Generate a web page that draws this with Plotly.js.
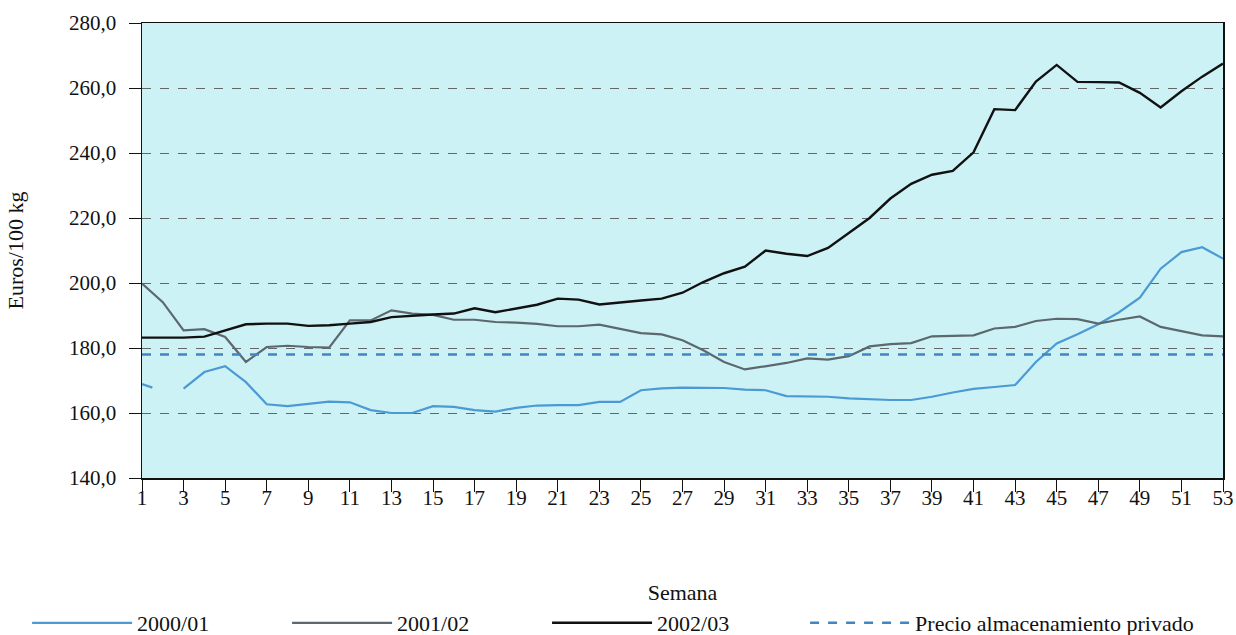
<!DOCTYPE html>
<html><head><meta charset="utf-8">
<script src="https://cdn.plot.ly/plotly-3.0.1.min.js"></script>
<style>html,body{margin:0;padding:0;background:#fff}#chart{width:1236px;height:635px}</style>
</head><body><div id="chart"></div>
<script>
const weeks = [1,2,3,4,5,6,7,8,9,10,11,12,13,14,15,16,17,18,19,20,21,22,23,24,25,26,27,28,29,30,31,32,33,34,35,36,37,38,39,40,41,42,43,44,45,46,47,48,49,50,51,52,53];
const weeks0001 = [1,1.5,2,3,4,5,6,7,8,9,10,11,12,13,14,15,16,17,18,19,20,21,22,23,24,25,26,27,28,29,30,31,32,33,34,35,36,37,38,39,40,41,42,43,44,45,46,47,48,49,50,51,52,53];
const s0001 = [168.9,167.8,null,167.5,172.6,174.4,169.5,162.7,162.1,162.8,163.5,163.3,160.9,160.0,160.0,162.1,161.9,160.9,160.4,161.6,162.3,162.4,162.4,163.4,163.4,167.0,167.6,167.8,167.8,167.7,167.2,167.0,165.2,165.2,165.0,164.5,164.2,164.0,164.0,165.0,166.3,167.4,168.0,168.6,175.7,181.4,184.2,187.3,191.0,195.5,204.4,209.5,211.0,207.5];
const s0102 = [199.8,194.1,185.4,185.8,183.4,175.7,180.3,180.7,180.3,180.1,188.5,188.5,191.6,190.6,190.2,188.7,188.7,188.0,187.8,187.4,186.7,186.7,187.2,186.0,184.6,184.2,182.4,179.3,175.7,173.4,174.4,175.4,176.8,176.4,177.5,180.5,181.2,181.5,183.6,183.8,183.9,186.0,186.5,188.3,189.0,188.9,187.5,188.7,189.7,186.5,185.2,183.9,183.6];
const s0203 = [183.2,183.2,183.2,183.5,185.5,187.3,187.5,187.5,186.8,187.0,187.5,188.0,189.5,190.0,190.3,190.6,192.2,191.0,192.2,193.3,195.2,194.9,193.4,194.1,194.6,195.2,197.0,200.3,203.0,205.0,210.0,209.0,208.3,210.8,215.5,220.0,226.0,230.5,233.3,234.5,240.2,253.5,253.2,262.0,267.1,261.9,261.8,261.7,258.5,254.0,259.0,263.5,267.5];
const storageWeeks = [1,53];
const storagePrice = [178,178];
const seriesNames = ['2000/01','2001/02','2002/03','Precio almacenamiento privado'];
const tickWeeks = [1,3,5,7,9,11,13,15,17,19,21,23,25,27,29,31,33,35,37,39,41,43,45,47,49,51,53];
const yTicks = [140,160,180,200,220,240,260,280];

const fam = 'Liberation Serif';
const tickFont = {family:fam, size:21, color:'#111'};
const titleFont = {family:fam, size:22, color:'#111'};
const legFont = {family:fam, size:22, color:'#111'};
const traces = [
  {x:weeks0001, y:s0001, name:seriesNames[0], legend:'legend', mode:'lines', connectgaps:false, line:{color:'#4b9ad4', width:2.2}},
  {x:weeks, y:s0102, name:seriesNames[1], legend:'legend2', mode:'lines', line:{color:'#5b686d', width:2.2}},
  {x:weeks, y:s0203, name:seriesNames[2], legend:'legend3', mode:'lines', line:{color:'#111111', width:2.4}},
  {x:storageWeeks, y:storagePrice, name:seriesNames[3], legend:'legend4', mode:'lines', line:{color:'#3f86c2', width:2.6, dash:'dash'}}
];
function leg(x){ return {orientation:'h', x:x, xanchor:'left', y:-0.3187, yanchor:'middle', font:legFont, itemwidth:100, bgcolor:'rgba(0,0,0,0)'}; }
const layout = {
  width:1236, height:635,
  margin:{l:142, r:13, t:23, b:157, autoexpand:false},
  paper_bgcolor:'#ffffff', plot_bgcolor:'#cdf2f6',
  font:tickFont, separators:',.', showlegend:true,
  xaxis:{range:[1,53], tickvals:tickWeeks, ticktext:tickWeeks.map(String), ticks:'outside', ticklen:12, tickcolor:'#111', ticklabelstandoff:-12,
    showline:true, linecolor:'#111', linewidth:1.5, mirror:true, showgrid:false, zeroline:false, automargin:false,
    title:{text:'Semana', font:titleFont, standoff:76}, tickfont:tickFont},
  yaxis:{range:[140,280], tickvals:yTicks, tickformat:'.1f', ticks:'outside', ticklen:12, tickcolor:'#111', ticklabelstandoff:8,
    showline:true, linecolor:'#111', linewidth:1.5, mirror:true, showgrid:true, gridcolor:'#666', gridwidth:1, griddash:'dash', zeroline:false, automargin:false,
    title:{text:'Euros/100 kg', font:titleFont, standoff:39}, tickfont:tickFont},
  legend:leg(-0.1063), legend2:leg(0.1342), legend3:leg(0.3747), legend4:leg(0.6134)
};
Plotly.newPlot('chart', traces, layout, {displayModeBar:false, staticPlot:true});
</script>
</body></html>
